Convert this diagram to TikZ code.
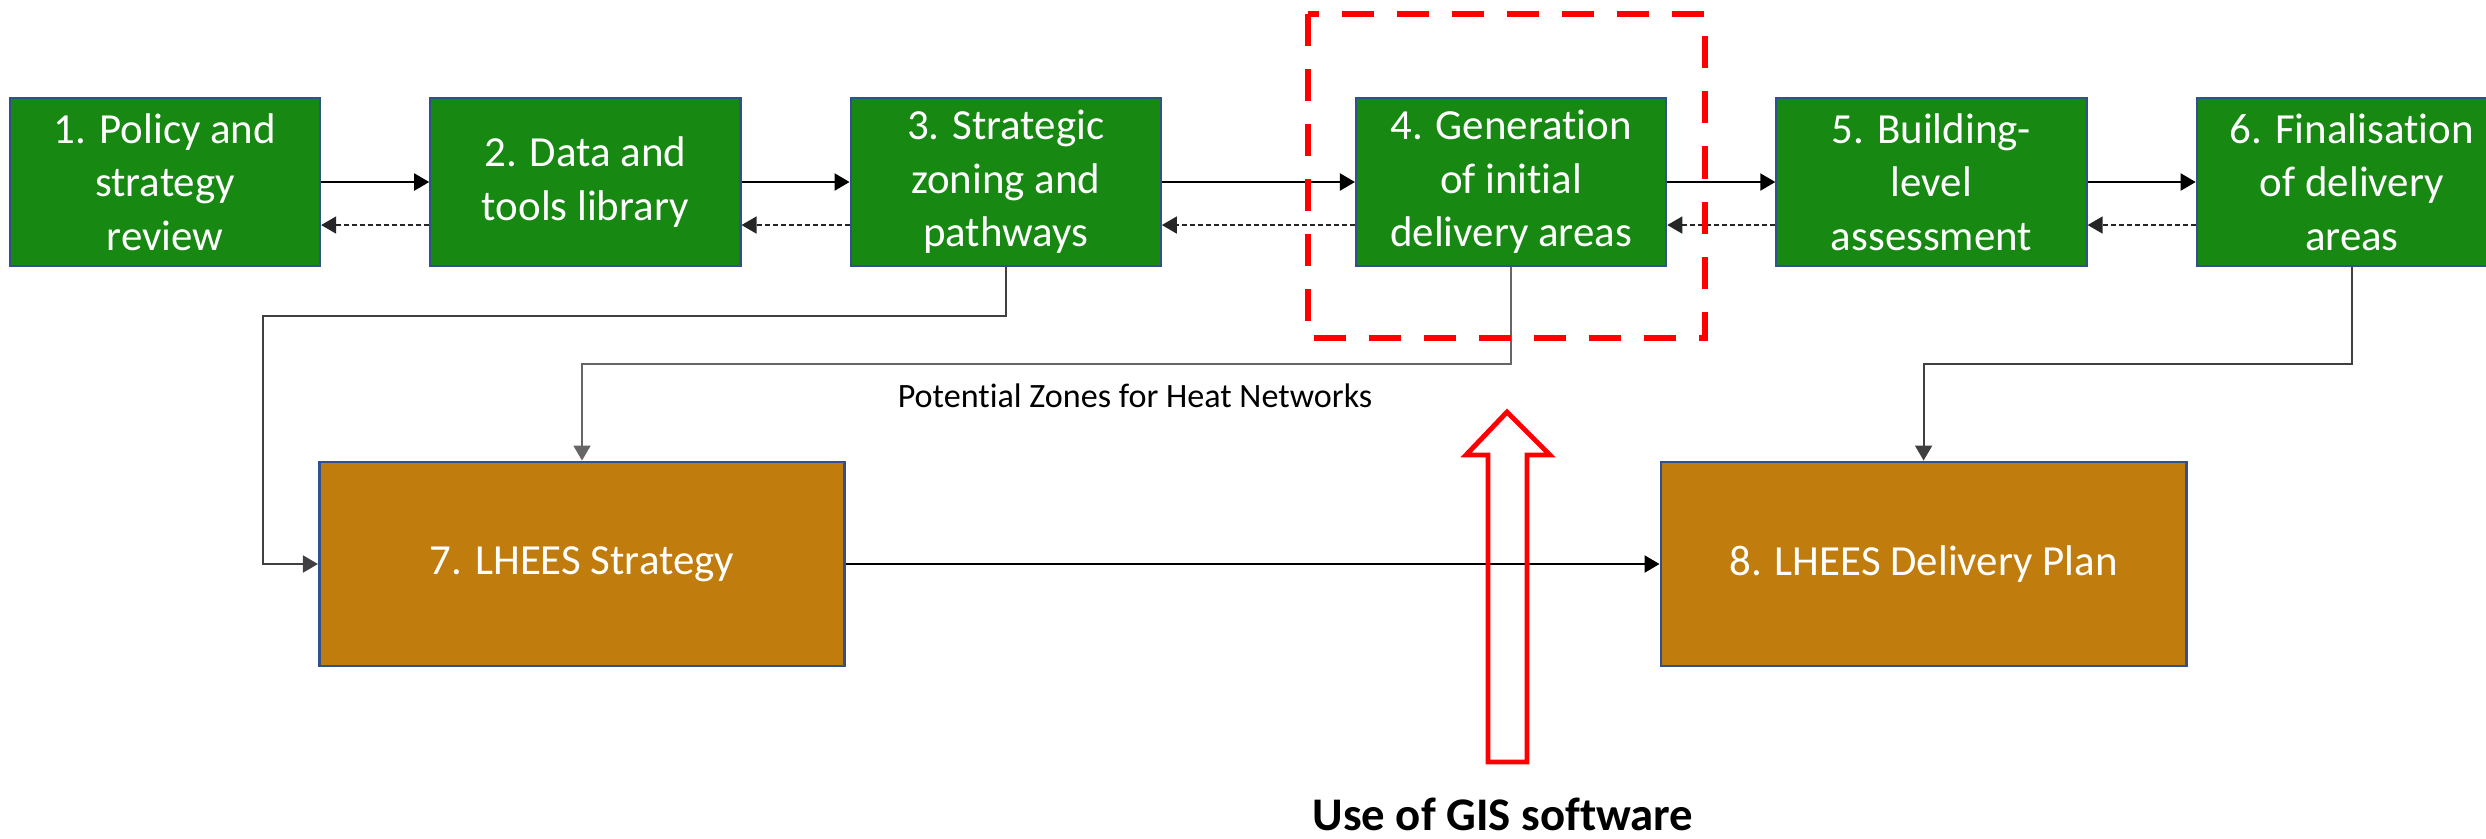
\documentclass[tikz,border=0pt]{standalone}
\usepackage{fontspec}
\setmainfont{Carlito}[Ligatures=NoCommon]
\usetikzlibrary{positioning,arrows.meta}
\definecolor{stagegreen}{RGB}{23,136,17}
\definecolor{outputorange}{RGB}{192,124,12}
\definecolor{boxedge}{RGB}{47,82,143}

\begin{document}
\begin{tikzpicture}[
    x=0.01cm, y=-0.01cm,
    >={Triangle[length=1.5mm,width=1.7mm]},
    stagebox/.style={rectangle, draw=boxedge, line width=0.6pt, fill=stagegreen, text=white, minimum width=3.1cm, minimum height=1.68cm, align=center, inner sep=0pt, font=\fontsize{12.2}{15.2}\selectfont},
    outputbox/.style={stagebox, fill=outputorange, minimum width=5.25cm, minimum height=2.04cm, line width=0.8pt},
    flow/.style={->, line width=0.6pt, black},
    feedback/.style={->, line width=0.45pt, black!85, dash pattern=on 0.05cm off 0.03cm},
    link/.style={->, line width=0.55pt, black!75},
    focus/.style={draw=red, line width=1.7pt, dash pattern=on 0.32cm off 0.23cm},
    gisarrow/.style={draw=red, line width=1.4pt, miter limit=10}
]
    \useasboundingbox (0,0) rectangle (2486,838);

    % LHEES stages
    \node [stagebox] (policy) at (165,182) {1. Policy and\\strategy\\review};
    \node [stagebox, right=1.08cm of policy] (data) {2. Data and\\tools library};
    \node [stagebox, right=1.08cm of data] (zoning) {3. Strategic\\zoning and\\pathways};
    \node [stagebox, right=1.93cm of zoning] (initial) {4. Generation\\of initial\\delivery areas};
    \node [stagebox, right=1.08cm of initial] (building) {5. Building-\\level\\assessment};
    \node [stagebox, right=1.08cm of building] (final) {6. Finalisation\\of delivery\\areas};

    % Outputs
    \node [outputbox] (strategy) at (582,564) {7. LHEES Strategy};
    \node [outputbox, right=8.13cm of strategy] (plan) {8. LHEES Delivery Plan};

    % Forward steps
    \draw [flow] (policy) -- (data);
    \draw [flow] (data) -- (zoning);
    \draw [flow] (zoning) -- (initial);
    \draw [flow] (initial) -- (building);
    \draw [flow] (building) -- (final);

    % Going back a step
    \draw [feedback] ([yshift=-0.43cm]data.west) -- ([yshift=-0.43cm]policy.east);
    \draw [feedback] ([yshift=-0.43cm]zoning.west) -- ([yshift=-0.43cm]data.east);
    \draw [feedback] ([yshift=-0.43cm]initial.west) -- ([yshift=-0.43cm]zoning.east);
    \draw [feedback] ([yshift=-0.43cm]building.west) -- ([yshift=-0.43cm]initial.east);
    \draw [feedback] ([yshift=-0.43cm]final.west) -- ([yshift=-0.43cm]building.east);

    % Links to the outputs
    \draw [link] (zoning.south) -- ++(0,49) -| ([xshift=-0.55cm]strategy.west) -- (strategy.west);
    \draw [link, black!60] (initial.south) -- ++(0,97) -| (strategy.north);
    \node (zones) at (1135,396) {\fontsize{9.7}{11.6}\selectfont Potential Zones for Heat Networks};
    \draw [link] (final.south) -- ++(0,97) -| (plan.north);
    \draw [flow] (strategy) -- (plan);

    % GIS focus
    \draw [focus] (1308,14) rectangle (1705,338);
    \draw [gisarrow] (1507,412) -- (1550,455) -- (1527,455) -- (1527,762)
        -- (1488,762) -- (1488,455) -- (1466,455) -- cycle;
    \node [inner sep=0pt, font=\fontsize{13.3}{16}\selectfont\bfseries] (gis) at (1503,814) {Use of GIS software};
\end{tikzpicture}
\end{document}
